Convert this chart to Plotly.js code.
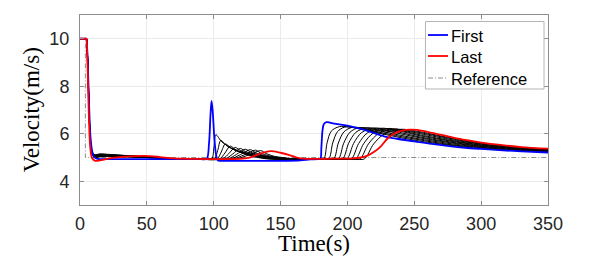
<!DOCTYPE html>
<html>
<head>
<meta charset="utf-8">
<script src="https://cdn.plot.ly/plotly-3.0.1.min.js"></script>
<style>
html,body{margin:0;padding:0;background:#fff;}
#chart{width:598px;height:266px;}
</style>
</head>
<body>
<div id="chart"></div>
<script>
// ---------- data ----------
const xTicks = [0, 50, 100, 150, 200, 250, 300, 350];
const yTicks = [4, 6, 8, 10];
const legendNames = ["First", "Last", "Reference"];
const xTitle = "Time(s)";
const yTitle = "Velocity(m/s)";

const timeReference = [0, 4, 4, 350];
const velReference  = [10, 10, 5, 5];

const timeFirst = [0, 4.4, 4.8, 5.2, 5.8, 6.8, 7.8, 9, 10.5, 13, 20, 50, 90, 94.7, 96.5, 97.6, 98.4, 99.3, 100.5, 101.8, 103, 105, 120, 150, 165, 172, 178, 179.8, 180.5, 181.3, 182.3, 184.3, 187, 190, 200, 212, 220, 229, 237, 251, 263, 276, 288, 300, 316, 330, 350];
const velFirst  = [10, 10, 10, 9.75, 9.0, 7.2, 5.9, 5.3, 5.02, 4.94, 4.93, 4.93, 4.93, 4.94, 5.6, 6.8, 7.38, 6.9, 5.8, 5.1, 4.88, 4.86, 4.86, 4.86, 4.88, 4.92, 4.93, 4.95, 5.4, 6.1, 6.4, 6.49, 6.47, 6.43, 6.34, 6.17, 6.03, 5.87, 5.79, 5.67, 5.57, 5.48, 5.41, 5.36, 5.30, 5.26, 5.21];

const timeLast = [0, 4.4, 4.8, 5.2, 5.7, 6.7, 7.7, 9, 11, 13, 17, 24, 32, 42, 52, 60, 70, 85, 119.5, 126, 131.3, 137, 143, 150, 156.7, 162, 167, 190, 205, 210, 215, 220, 225, 230, 235, 241, 247, 252, 263, 276, 288, 300, 316, 330, 350];
const velLast  = [10, 10, 10, 9.7, 8.8, 6.6, 5.4, 4.98, 4.87, 4.86, 4.9, 4.98, 5.03, 5.06, 5.06, 5.02, 4.96, 4.94, 4.94, 4.98, 5.09, 5.2, 5.27, 5.2, 5.1, 5.0, 4.95, 4.95, 4.96, 5.0, 5.08, 5.24, 5.47, 5.80, 6.01, 6.13, 6.17, 6.16, 6.04, 5.88, 5.74, 5.63, 5.52, 5.44, 5.37];

const timeFollowers = [
  [0, 4.4, 4.8, 5.2, 5.8, 6.8, 7.8, 9, 11, 15, 22, 32, 45, 60, 75, 90, 98.4, 100.2, 101.6, 106.2, 115, 126.6, 140, 160, 178, 182.3, 184.8, 187.8, 194, 210, 229, 252, 276, 300, 325, 350],
  [0, 4.4, 4.8, 5.2, 5.8, 6.8, 7.8, 9, 11, 15, 22, 32, 45, 60, 75, 90, 100.4, 103, 105.3, 109.8, 118.5, 129.8, 143, 165, 181, 186, 189, 192.6, 198, 212, 231, 252, 276, 300, 325, 350],
  [0, 4.4, 4.8, 5.2, 5.8, 6.8, 7.8, 9, 11, 15, 22, 32, 45, 60, 75, 90, 102.4, 105.6, 108.7, 113.2, 121.8, 133, 146, 168, 184, 189.7, 193.2, 197.4, 203.7, 216, 234, 252, 276, 300, 325, 350],
  [0, 4.4, 4.8, 5.2, 5.8, 6.8, 7.8, 9, 11, 15, 22, 32, 45, 60, 75, 90, 104.4, 108.4, 112.3, 116.7, 125.1, 136.1, 149, 170, 187, 193.2, 197.2, 202, 209, 220, 237, 252, 276, 300, 325, 350],
  [0, 4.4, 4.8, 5.2, 5.8, 6.8, 7.8, 9, 11, 15, 22, 32, 45, 60, 75, 90, 106.4, 111.2, 116, 120.3, 128.6, 139.4, 152, 172, 190, 196.4, 200.9, 206.3, 214.4, 224, 239, 252, 276, 300, 325, 350],
  [0, 4.4, 4.8, 5.2, 5.8, 6.8, 7.8, 9, 11, 15, 22, 32, 45, 60, 75, 90, 108.4, 114.1, 119.8, 123.9, 131.8, 142, 154, 174, 193, 199.6, 204.6, 210.6, 219.6, 229, 241, 252, 276, 300, 325, 350],
  [0, 4.4, 4.8, 5.2, 5.8, 6.8, 7.8, 9, 11, 15, 22, 32, 45, 60, 75, 90, 110.4, 117, 123.6, 127.5, 134.9, 144.7, 156, 176, 196, 202.9, 208.4, 215, 225, 233, 243, 252, 276, 300, 325, 350],
  [0, 4.4, 4.8, 5.2, 5.8, 6.8, 7.8, 9, 11, 15, 22, 32, 45, 60, 75, 90, 112.4, 119.9, 127.4, 131.1, 138.1, 147.3, 158, 178, 199, 206.1, 212.1, 219.3, 230, 238, 252, 276, 300, 325, 350],
  [0, 4.4, 4.8, 5.2, 5.8, 6.8, 7.8, 9, 11, 15, 22, 32, 45, 60, 75, 90, 114.4, 122.8, 131.3, 134.7, 141.3, 150, 160, 180, 202, 209.3, 215.8, 223.6, 235.3, 243, 252, 276, 300, 325, 350],
  [0, 4.4, 4.8, 5.2, 5.8, 6.8, 7.8, 9, 11, 15, 22, 32, 45, 60, 75, 90, 116.4, 125.8, 135.2, 138.4, 144.6, 152.6, 162, 182, 205, 212.6, 219.6, 228, 240.6, 246, 252, 276, 300, 325, 350]
];
const velFollowers = [
  [10, 10, 10, 9.75, 8.9, 6.9, 5.6, 5.12, 5.0, 5.03, 5.04, 5.03, 5.01, 4.97, 4.94, 4.94, 4.94, 5.45, 5.96, 5.65, 5.35, 5.09, 4.94, 4.94, 4.94, 4.94, 5.62, 6.10, 6.30, 6.20, 5.96, 5.71, 5.52, 5.38, 5.29, 5.22],
  [10, 10, 10, 9.75, 8.9, 6.9, 5.6, 5.13, 5.01, 5.04, 5.05, 5.04, 5.01, 4.97, 4.94, 4.94, 4.94, 5.30, 5.72, 5.49, 5.25, 5.06, 4.94, 4.94, 4.94, 4.94, 5.61, 6.09, 6.28, 6.19, 5.98, 5.76, 5.55, 5.41, 5.31, 5.24],
  [10, 10, 10, 9.75, 8.95, 6.95, 5.62, 5.15, 5.03, 5.05, 5.06, 5.04, 5.02, 4.97, 4.94, 4.94, 4.94, 5.23, 5.57, 5.38, 5.19, 5.03, 4.94, 4.94, 4.94, 4.94, 5.61, 6.08, 6.27, 6.19, 6.00, 5.80, 5.59, 5.43, 5.32, 5.25],
  [10, 10, 10, 9.75, 8.95, 6.95, 5.63, 5.16, 5.04, 5.06, 5.07, 5.05, 5.02, 4.98, 4.94, 4.94, 4.94, 5.19, 5.48, 5.32, 5.16, 5.02, 4.94, 4.94, 4.94, 4.94, 5.60, 6.07, 6.26, 6.19, 6.03, 5.85, 5.63, 5.46, 5.34, 5.27],
  [10, 10, 10, 9.75, 9.0, 7.0, 5.65, 5.18, 5.05, 5.08, 5.08, 5.06, 5.03, 4.98, 4.94, 4.94, 4.94, 5.16, 5.42, 5.28, 5.13, 5.01, 4.94, 4.94, 4.94, 4.94, 5.60, 6.06, 6.25, 6.19, 6.06, 5.89, 5.66, 5.48, 5.36, 5.28],
  [10, 10, 10, 9.75, 9.0, 7.0, 5.66, 5.19, 5.07, 5.09, 5.09, 5.07, 5.03, 4.98, 4.94, 4.94, 4.94, 5.14, 5.38, 5.25, 5.12, 5.01, 4.94, 4.94, 4.94, 4.94, 5.59, 6.05, 6.24, 6.19, 6.09, 5.94, 5.70, 5.51, 5.38, 5.30],
  [10, 10, 10, 9.75, 9.05, 7.05, 5.68, 5.21, 5.08, 5.11, 5.10, 5.07, 5.04, 4.98, 4.94, 4.94, 4.94, 5.13, 5.35, 5.23, 5.10, 5.00, 4.94, 4.94, 4.94, 4.94, 5.59, 6.04, 6.23, 6.19, 6.10, 5.98, 5.73, 5.53, 5.40, 5.31],
  [10, 10, 10, 9.75, 9.05, 7.05, 5.70, 5.22, 5.10, 5.12, 5.11, 5.08, 5.04, 4.99, 4.94, 4.94, 4.94, 5.12, 5.33, 5.21, 5.08, 5.00, 4.94, 4.94, 4.94, 4.94, 5.58, 6.03, 6.22, 6.18, 6.03, 5.77, 5.56, 5.42, 5.33],
  [10, 10, 10, 9.75, 9.1, 7.1, 5.72, 5.24, 5.11, 5.14, 5.12, 5.09, 5.05, 4.99, 4.94, 4.94, 4.94, 5.11, 5.31, 5.20, 5.07, 4.99, 4.94, 4.94, 4.94, 4.94, 5.58, 6.02, 6.20, 6.15, 6.07, 5.81, 5.58, 5.43, 5.34],
  [10, 10, 10, 9.75, 9.1, 7.1, 5.74, 5.25, 5.12, 5.15, 5.13, 5.09, 5.05, 4.99, 4.94, 4.94, 4.94, 5.10, 5.29, 5.19, 5.06, 4.99, 4.94, 4.94, 4.94, 4.94, 5.57, 6.01, 6.19, 6.16, 6.11, 5.84, 5.61, 5.45, 5.36]
];

// ---------- styling ----------
const colFirst = "#0000ff", colLast = "#ff0000", colRef = "#8c8c8c";
const refDash = "5px,2px,1px,2px";

const traces = [];
traces.push({
  x: timeReference, y: velReference, type: "scatter", mode: "lines",
  name: legendNames[2], showlegend: false,
  line: {color: colRef, width: 1, dash: refDash, simplify: false}
});
for (let i = 0; i < timeFollowers.length; i++) {
  traces.push({
    x: timeFollowers[i], y: velFollowers[i], type: "scatter", mode: "lines",
    showlegend: false, hoverinfo: "skip",
    line: {color: "#000000", width: 1, shape: "spline", smoothing: 0.9, simplify: false}
  });
}
traces.push({
  x: timeFirst, y: velFirst, type: "scatter", mode: "lines",
  name: legendNames[0], showlegend: false,
  line: {color: colFirst, width: 1.8, shape: "spline", smoothing: 0.9, simplify: false}
});
traces.push({
  x: timeLast, y: velLast, type: "scatter", mode: "lines",
  name: legendNames[1], showlegend: false,
  line: {color: colLast, width: 1.8, shape: "spline", smoothing: 0.9, simplify: false}
});

const axisCommon = {
  showline: true, linecolor: "#8c8c8c", linewidth: 1, mirror: "ticks",
  ticks: "inside", ticklen: 4, tickcolor: "#8c8c8c",
  showgrid: true, gridcolor: "#ebebeb", gridwidth: 1, zeroline: false,
  tickfont: {family: "Liberation Sans, Arial, sans-serif", size: 18, color: "#262626"}
};

// Legend box drawn in paper coordinates (MATLAB-like compact legend)
const legX0 = 0.7382, legX1 = 0.9915, legY0 = 0.6105, legY1 = 0.9658;
const legLineX0 = 0.7436, legLineX1 = 0.7863, legTextX = 0.7895;
const legRows = [0.8947, 0.7842, 0.6684];
const legColors = [colFirst, colLast, colRef];
const legWidths = [1.8, 1.8, 1];
const legDashes = ["solid", "solid", refDash];

const shapes = [{
  type: "rect", xref: "paper", yref: "paper", x0: legX0, x1: legX1, y0: legY0, y1: legY1,
  fillcolor: "#ffffff", line: {color: "#b4b4b4", width: 1}, layer: "above"
}];
const annotations = [];
for (let i = 0; i < 3; i++) {
  shapes.push({
    type: "line", xref: "paper", yref: "paper", x0: legLineX0, x1: legLineX1, y0: legRows[i], y1: legRows[i],
    line: {color: legColors[i], width: legWidths[i], dash: legDashes[i]}, layer: "above"
  });
  annotations.push({
    xref: "paper", yref: "paper", x: legTextX, y: legRows[i], xanchor: "left", yanchor: "middle",
    text: legendNames[i], showarrow: false, yshift: -1,
    font: {family: "Liberation Sans, Arial, sans-serif", size: 16.5, color: "#000"}
  });
}
annotations.push({
  xref: "paper", yref: "paper", x: 0.5, y: -0.2, xanchor: "center", yanchor: "middle",
  text: xTitle, showarrow: false,
  font: {family: "Liberation Serif, Times New Roman, serif", size: 23, color: "#000"}
});
annotations.push({
  xref: "paper", yref: "paper", x: -0.104, y: 0.5, xanchor: "center", yanchor: "middle",
  text: yTitle, showarrow: false, textangle: -90,
  font: {family: "Liberation Serif, Times New Roman, serif", size: 23, color: "#000"}
});

const layout = {
  width: 598, height: 266,
  margin: {l: 80, r: 50, t: 15, b: 61, pad: 0},
  paper_bgcolor: "#ffffff", plot_bgcolor: "#ffffff",
  showlegend: false,
  xaxis: Object.assign({}, axisCommon, {
    range: [0, 350], tickmode: "array", tickvals: xTicks, ticktext: xTicks.map(String),
    ticklabelstandoff: 2
  }),
  yaxis: Object.assign({}, axisCommon, {
    range: [3, 11], tickmode: "array", tickvals: yTicks, ticktext: yTicks.map(String),
    ticklabelstandoff: 6
  }),
  shapes: shapes,
  annotations: annotations
};

Plotly.newPlot("chart", traces, layout, {staticPlot: true, displayModeBar: false});
</script>
</body>
</html>
